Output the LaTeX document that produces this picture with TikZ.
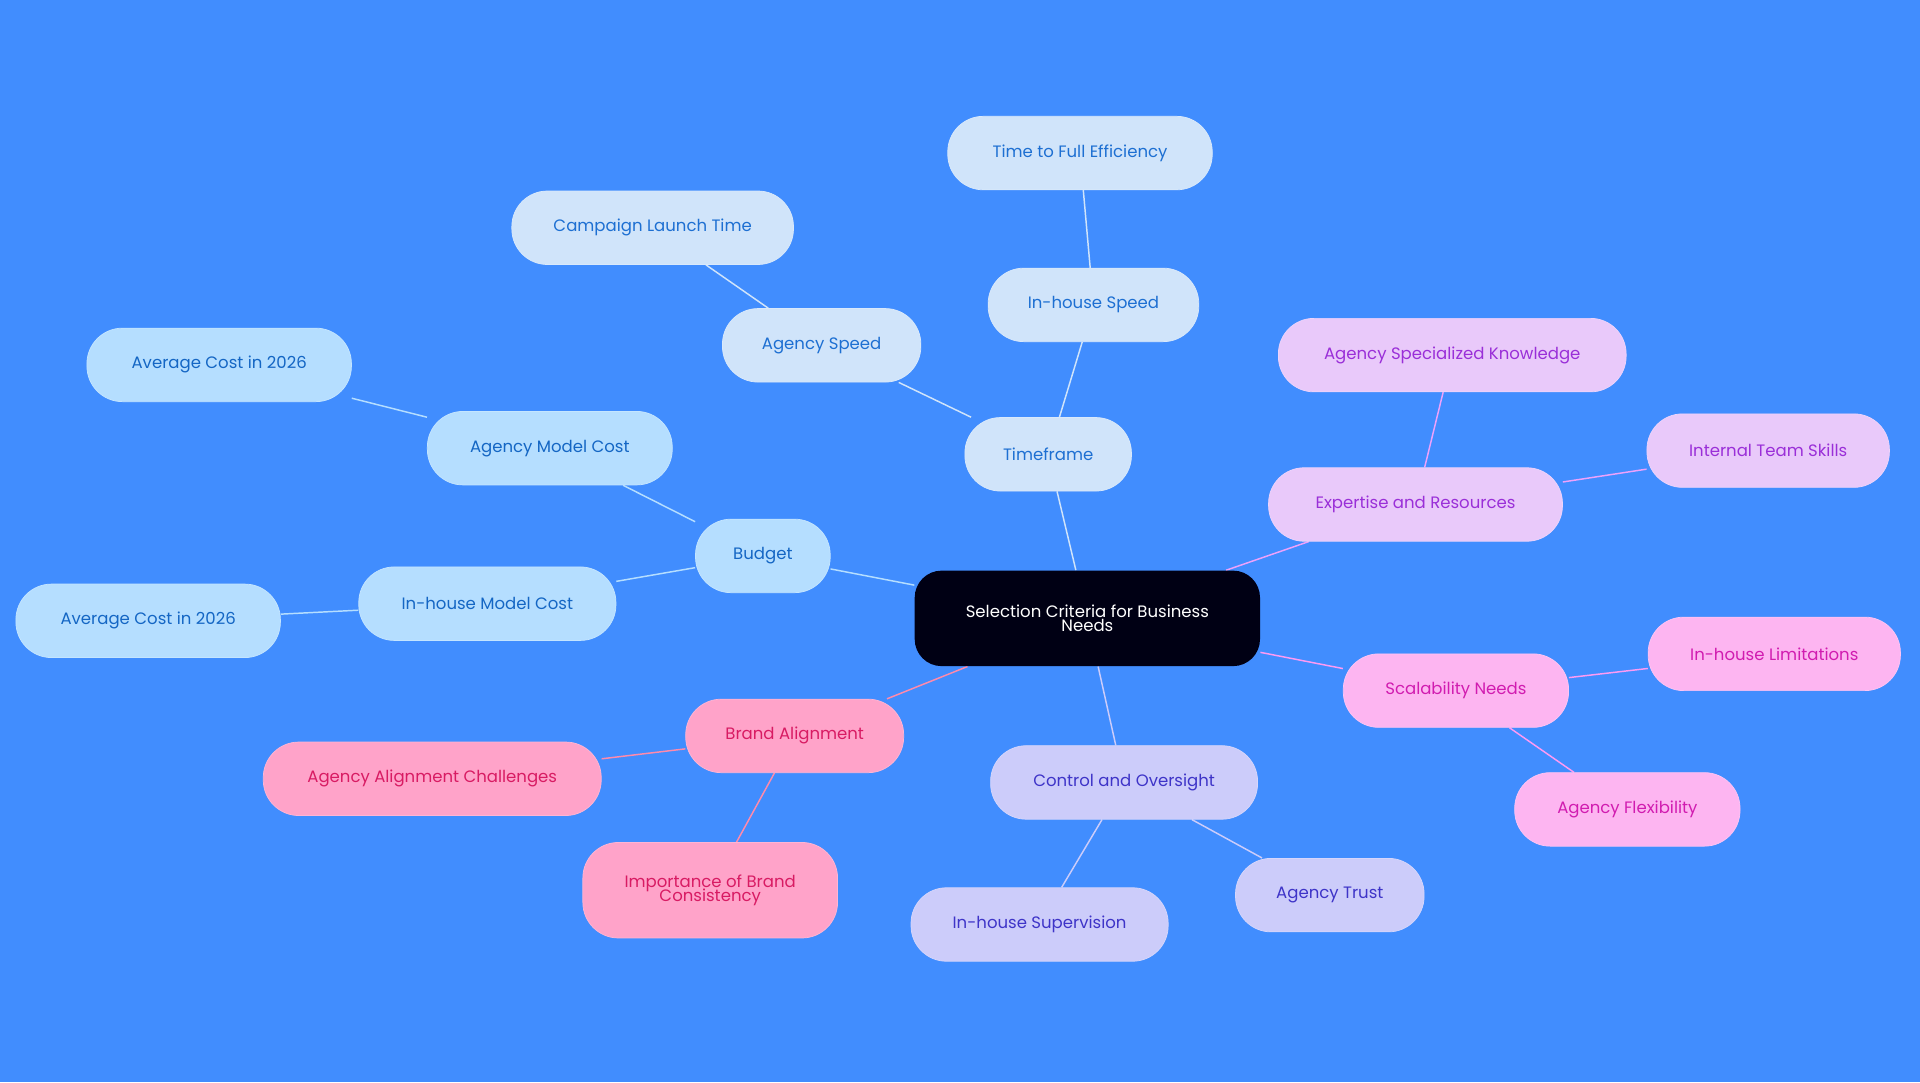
\documentclass[tikz,border=0pt]{standalone}
\usepackage{fontspec}
\setmainfont{Poppins}
\usetikzlibrary{backgrounds}
\definecolor{bgblue}{HTML}{418DFE}
\definecolor{budfill}{HTML}{B5DEFF}\definecolor{budtext}{HTML}{1466C4}
\definecolor{timfill}{HTML}{D0E4FA}\definecolor{timtext}{HTML}{1D6FD2}
\definecolor{expfill}{HTML}{E9C9FA}\definecolor{exptext}{HTML}{9A2FD8}
\definecolor{scafill}{HTML}{FDB5F1}\definecolor{scatext}{HTML}{D11CB0}
\definecolor{confill}{HTML}{CCCCFA}\definecolor{context}{HTML}{3E34C8}
\definecolor{brafill}{HTML}{FFA3C9}\definecolor{bratext}{HTML}{D81B63}

\begin{document}
\begin{tikzpicture}
  [x=1pt,y=-1pt,
   every node/.style={rounded corners=29pt,minimum height=60pt,inner sep=2pt,
     font=\fontsize{13.5}{14}\selectfont,align=center,draw=white,line width=0.6pt},
   bud/.style={fill=budfill,text=budtext,draw=budfill!80!white},
   tim/.style={fill=timfill,text=timtext,draw=timfill!80!white},
   expt/.style={fill=expfill,text=exptext,draw=expfill!80!white},
   sca/.style={fill=scafill,text=scatext,draw=scafill!80!white},
   con/.style={fill=confill,text=context,draw=confill!80!white},
   bra/.style={fill=brafill,text=bratext,draw=brafill!80!white}]

  \node[fill=black!92!blue,text=white,minimum width=282pt,minimum height=78pt,rounded corners=22pt,draw=none] (root) at (888,505) {Selection Criteria for Business\\[-2pt]Needs};

  \node[bud,minimum width=110pt] (bud) at (623,454) {Budget};
  \node[bud,minimum width=200pt] (agcost) at (449,366) {Agency Model Cost};
  \node[bud,minimum width=216pt] (avg1) at (179,298) {Average Cost in 2026};
  \node[bud,minimum width=210pt] (incost) at (398,493) {In-house Model Cost};
  \node[bud,minimum width=216pt] (avg2) at (121,507) {Average Cost in 2026};

  \node[tim,minimum width=136pt] (tim) at (856,371) {Timeframe};
  \node[tim,minimum width=162pt] (agspeed) at (671,282) {Agency Speed};
  \node[tim,minimum width=230pt] (launch) at (533,186) {Campaign Launch Time};
  \node[tim,minimum width=172pt] (inspeed) at (893,249) {In-house Speed};
  \node[tim,minimum width=216pt] (full) at (882,125) {Time to Full Efficiency};

  \node[expt,minimum width=240pt] (exp) at (1156,412) {Expertise and Resources};
  \node[expt,minimum width=284pt] (spec) at (1186,290) {Agency Specialized Knowledge};
  \node[expt,minimum width=198pt] (skills) at (1444,368) {Internal Team Skills};

  \node[sca,minimum width=184pt] (sca) at (1189,564) {Scalability Needs};
  \node[sca,minimum width=206pt] (limit) at (1449,534) {In-house Limitations};
  \node[sca,minimum width=184pt] (flex) at (1329,661) {Agency Flexibility};

  \node[con,minimum width=218pt] (con) at (918,639) {Control and Oversight};
  \node[con,minimum width=210pt] (super) at (849,755) {In-house Supervision};
  \node[con,minimum width=154pt] (trust) at (1086,731) {Agency Trust};

  \node[bra,minimum width=178pt] (bra) at (649,601) {Brand Alignment};
  \node[bra,minimum width=276pt] (chal) at (353,636) {Agency Alignment Challenges};
  \node[bra,minimum width=208pt,minimum height=78pt] (cons) at (580,727) {Importance of Brand\\[-2pt]Consistency};

  \begin{scope}[on background layer]
    \fill[bgblue] (0,0) rectangle (1568,884);
    \foreach \from/\to in {root/bud,bud/agcost,agcost/avg1,bud/incost,incost/avg2}
      \draw[budfill,line width=1.2pt] (\from) -- (\to);
    \foreach \from/\to in {root/tim,tim/agspeed,agspeed/launch,tim/inspeed,inspeed/full}
      \draw[timfill,line width=1.2pt] (\from) -- (\to);
    \foreach \from/\to in {root/exp,exp/spec,exp/skills}
      \draw[expfill!80!magenta,line width=1.2pt] (\from) -- (\to);
    \foreach \from/\to in {root/sca,sca/limit,sca/flex}
      \draw[scafill!85!magenta,line width=1.2pt] (\from) -- (\to);
    \foreach \from/\to in {root/con,con/super,con/trust}
      \draw[confill,line width=1.2pt] (\from) -- (\to);
    \foreach \from/\to in {root/bra,bra/chal,bra/cons}
      \draw[brafill!85!red,line width=1.2pt] (\from) -- (\to);
  \end{scope}
\end{tikzpicture}
\end{document}
